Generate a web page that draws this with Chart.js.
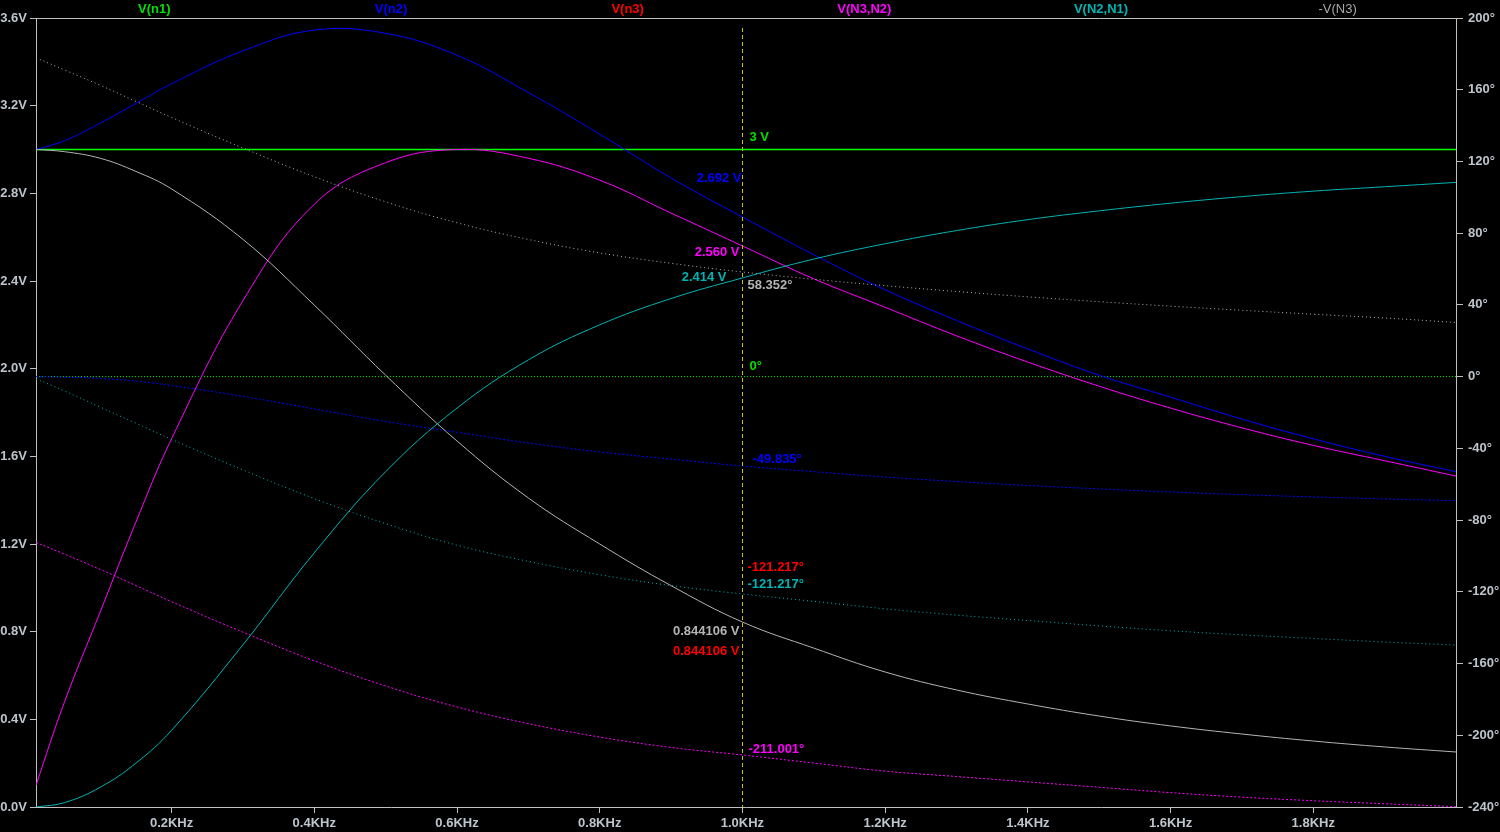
<!DOCTYPE html>
<html>
<head>
<meta charset="utf-8">
<script src="https://cdn.jsdelivr.net/npm/chart.js@4.4.1/dist/chart.umd.min.js"></script>
<style>
  html, body { margin: 0; padding: 0; background: #000; }
  canvas { display: block; }
</style>
</head>
<body>
<canvas id="bode" width="1500" height="832"></canvas>
<script>
/* global Chart */

// frequency points, KHz
const freqKHz = [0.01, 0.05, 0.1, 0.15, 0.2, 0.3, 0.4, 0.5, 0.6, 0.7, 0.8, 0.9, 1.0,
  1.1, 1.2, 1.3, 1.4, 1.5, 1.6, 1.7, 1.8, 1.9, 2.0];

const seriesNames = ['V(n1)', 'V(n2)', 'V(n3)', 'V(N3,N2)', 'V(N2,N1)', '-V(N3)'];

// magnitudes (V)
const magN1 = [3, 3, 3, 3, 3, 3, 3, 3, 3, 3, 3, 3, 3, 3, 3, 3, 3, 3, 3, 3, 3, 3, 3];
const magN2 = [3.00, 3.04, 3.12, 3.21, 3.30, 3.45, 3.545, 3.53, 3.43, 3.26, 3.07, 2.87, 2.692,
  2.52, 2.36, 2.22, 2.09, 1.97, 1.87, 1.77, 1.68, 1.60, 1.53];
const magN3 = [3.00, 2.99, 2.96, 2.90, 2.82, 2.59, 2.29, 1.97, 1.67, 1.41, 1.20, 1.01, 0.844,
  0.725, 0.616, 0.534, 0.470, 0.415, 0.370, 0.333, 0.301, 0.274, 0.251];
const magN3N2 = [0.10, 0.48, 0.89, 1.30, 1.68, 2.31, 2.75, 2.94, 3.00, 2.96, 2.86, 2.71, 2.560,
  2.41, 2.28, 2.15, 2.03, 1.92, 1.82, 1.73, 1.65, 1.58, 1.51];
const magN2N1 = [0.00, 0.02, 0.09, 0.20, 0.35, 0.74, 1.16, 1.53, 1.82, 2.04, 2.20, 2.32, 2.414,
  2.50, 2.57, 2.63, 2.68, 2.72, 2.755, 2.785, 2.81, 2.83, 2.85];
const magNegN3 = magN3;

// phases (degrees)
const phN1 = [0, 0, 0, 0, 0, 0, 0, 0, 0, 0, 0, 0, 0, 0, 0, 0, 0, 0, 0, 0, 0, 0, 0];
const phN2 = [0, -0.3, -1, -2.5, -5, -11, -18, -25, -31, -37, -42, -46, -49.835,
  -53, -56, -58.5, -60.7, -62.6, -64.3, -65.8, -67.1, -68.2, -69.2];
const phN3 = [-1.2, -8, -17, -26, -35, -52, -68, -82, -94, -103, -110.5, -116.5, -121.217,
  -125.3, -129.5, -133, -136, -139, -141.7, -144, -146, -148, -149.7];
const phN3N2 = [-92.5, -99, -107.5, -116.5, -125.5, -142.5, -158.5, -172.5, -184.2, -193.5, -201, -206.8, -211.001,
  -215.5, -220, -223, -226, -229, -232, -234.5, -236.5, -238.2, -239.8];
const phN2N1 = phN3;
const phNegN3 = [177.8, 171, 162.5, 153.5, 144.5, 127.5, 111.5, 97.5, 85.8, 76.5, 69, 63.2, 58.352,
  54.3, 50.7, 47.5, 44.5, 41.8, 39.3, 37, 34.8, 32.7, 30.2];

// axis ticks
const voltTicks = [0, 0.4, 0.8, 1.2, 1.6, 2.0, 2.4, 2.8, 3.2, 3.6];
const degTicks = [-240, -200, -160, -120, -80, -40, 0, 40, 80, 120, 160, 200];
const freqTicks = [0.2, 0.4, 0.6, 0.8, 1.0, 1.2, 1.4, 1.6, 1.8];
const cursorKHz = 1.0;

const AXIS_GREY = '#c0c0c0';
const TICK_TEXT = '#bcc4cc';
const FONT = '"Liberation Sans", Arial, sans-serif';

// V(n3) lies exactly under -V(N3) (magnitude) and V(N2,N1) (phase): fully covered
const traces = [
  { name: seriesNames[0], color: '#00ff00', mag: magN1, phase: phN1, dash: [1, 2], width: 1.5, order: 200 },
  { name: seriesNames[1], color: '#0000ff', mag: magN2, phase: phN2, dash: [2, 2], width: 1, order: 180 },
  { name: seriesNames[2], color: '#ff0000', mag: magN3, phase: phN3, dash: [1, 3], width: 1, order: 300, covered: true },
  { name: seriesNames[3], color: '#ff00ff', mag: magN3N2, phase: phN3N2, dash: [2, 2], width: 1, order: 160 },
  { name: seriesNames[4], color: '#00b4b4', mag: magN2N1, phase: phN2N1, dash: [1, 3], width: 1, order: 140 },
  { name: seriesNames[5], color: '#b4b4b4', mag: magNegN3, phase: phNegN3, dash: [1, 3], width: 1, order: 120 },
];

const datasets = [];
traces.forEach(function(t) {
  datasets.push({
    label: t.name,
    data: freqKHz.map((f, k) => ({ x: f, y: t.mag[k] })),
    yAxisID: 'yV',
    borderColor: t.color,
    borderWidth: t.width,
    pointRadius: 0,
    tension: 0.4,
    order: t.order,
    hidden: !!t.covered,
  });
  datasets.push({
    label: t.name + ' phase',
    data: freqKHz.map((f, k) => ({ x: f, y: t.phase[k] })),
    yAxisID: 'yDeg',
    borderColor: t.color,
    borderWidth: 1,
    borderDash: t.dash,
    pointRadius: 0,
    tension: 0.4,
    order: t.order - 1,
    hidden: !!t.covered,
  });
});

// cursor readouts
const cursorLabels = [
  { text: '3 V', color: '#00e000', axis: 'yV', value: 3, dx: 7, dy: -12, align: 'left' },
  { text: '2.692 V', color: '#0000ff', axis: 'yV', value: 2.692, dx: -1, dy: -39, align: 'right' },
  { text: '2.560 V', color: '#ff00ff', axis: 'yV', value: 2.560, dx: -3, dy: 6, align: 'right' },
  { text: '2.414 V', color: '#00b4b4', axis: 'yV', value: 2.414, dx: -16, dy: -1, align: 'right' },
  { text: '58.352°', color: '#b4b4b4', axis: 'yDeg', value: 58.352, dx: 5, dy: 13, align: 'left' },
  { text: '0°', color: '#00e000', axis: 'yDeg', value: 0, dx: 7, dy: -10, align: 'left' },
  { text: '-49.835°', color: '#0000ff', axis: 'yDeg', value: -49.835, dx: 10, dy: -7, align: 'left' },
  { text: '-121.217°', color: '#ff0000', axis: 'yDeg', value: -121.217, dx: 5, dy: -27, align: 'left' },
  { text: '-121.217°', color: '#00b4b4', axis: 'yDeg', value: -121.217, dx: 5, dy: -10, align: 'left' },
  { text: '0.844106 V', color: '#b4b4b4', axis: 'yV', value: 0.844106, dx: -3, dy: 9, align: 'right' },
  { text: '0.844106 V', color: '#ff0000', axis: 'yV', value: 0.844106, dx: -3, dy: 29, align: 'right' },
  { text: '-211.001°', color: '#ff00ff', axis: 'yDeg', value: -211.001, dx: 6, dy: -6, align: 'left' },
];

const ltspicePlugin = {
  id: 'ltspice',
  beforeDraw(chart) {
    const c = chart.ctx;
    c.save();
    c.fillStyle = '#000';
    c.fillRect(0, 0, chart.width, chart.height);
    c.restore();
  },
  afterDatasetsDraw(chart) {
    const c = chart.ctx;
    const area = chart.chartArea;
    const xs = chart.scales.x;
    const cx = Math.round(xs.getPixelForValue(cursorKHz)) + 0.5;

    c.save();
    // cursor
    c.strokeStyle = '#c8c800';
    c.lineWidth = 1;
    c.setLineDash([4, 3]);
    c.beginPath();
    c.moveTo(cx, area.top + 10);
    c.lineTo(cx, area.bottom);
    c.stroke();
    c.setLineDash([]);

    // top frame line
    c.strokeStyle = AXIS_GREY;
    c.beginPath();
    c.moveTo(area.left - 6, area.top + 0.5);
    c.lineTo(area.right, area.top + 0.5);
    c.stroke();

    // cursor readouts
    c.font = 'bold 13px ' + FONT;
    c.textBaseline = 'middle';
    cursorLabels.forEach(function(l) {
      const y = chart.scales[l.axis].getPixelForValue(l.value) + l.dy;
      c.fillStyle = l.color;
      c.textAlign = l.align;
      c.fillText(l.text, cx + l.dx, y);
    });

    // trace names along the top
    const w = (area.right - area.left) / traces.length;
    c.textAlign = 'center';
    traces.forEach(function(t, i) {
      const last = i === traces.length - 1;
      c.font = (last ? '' : 'bold ') + '13px ' + FONT;
      c.fillStyle = last ? '#a8a8a8' : (i === 0 ? '#00e000' : t.color);
      c.fillText(t.name, area.left + (i + 0.5) * w, 9);
    });
    c.restore();
  }
};

const tickFont = { family: FONT, size: 13, weight: 'bold' };

const chart = new Chart(document.getElementById('bode'), {
  type: 'line',
  data: { datasets: datasets },
  options: {
    responsive: false,
    animation: false,
    devicePixelRatio: 1,
    layout: { padding: { top: 18, left: 0, right: 0, bottom: 0 } },
    plugins: { legend: { display: false }, tooltip: { enabled: false } },
    scales: {
      x: {
        type: 'linear',
        min: 0.01,
        max: 2.0,
        afterFit(s) { s.height = 25; },
        afterBuildTicks(s) { s.ticks = freqTicks.map(v => ({ value: v })); },
        ticks: {
          callback: v => v.toFixed(1) + 'KHz',
          color: TICK_TEXT, font: tickFont, padding: 3, maxRotation: 0, autoSkip: false,
        },
        grid: { drawOnChartArea: false, color: AXIS_GREY, tickLength: 6 },
        border: { color: AXIS_GREY },
      },
      yV: {
        position: 'left',
        min: 0,
        max: 3.6,
        afterFit(s) { s.width = 36; },
        afterBuildTicks(s) { s.ticks = voltTicks.map(v => ({ value: v })); },
        ticks: {
          callback: v => v.toFixed(1) + 'V',
          color: TICK_TEXT, font: tickFont, padding: 3, autoSkip: false,
        },
        grid: { drawOnChartArea: false, color: AXIS_GREY, tickLength: 6 },
        border: { color: AXIS_GREY },
      },
      yDeg: {
        position: 'right',
        min: -240,
        max: 200,
        afterFit(s) { s.width = 44; },
        afterBuildTicks(s) { s.ticks = degTicks.map(v => ({ value: v })); },
        ticks: {
          callback: v => v + '°',
          color: TICK_TEXT, font: tickFont, padding: 5, autoSkip: false,
        },
        grid: { drawOnChartArea: false, color: AXIS_GREY, tickLength: 7 },
        border: { color: AXIS_GREY },
      },
    },
  },
  plugins: [ltspicePlugin],
});
console.log(chart.chartArea);
</script>
</body>
</html>
